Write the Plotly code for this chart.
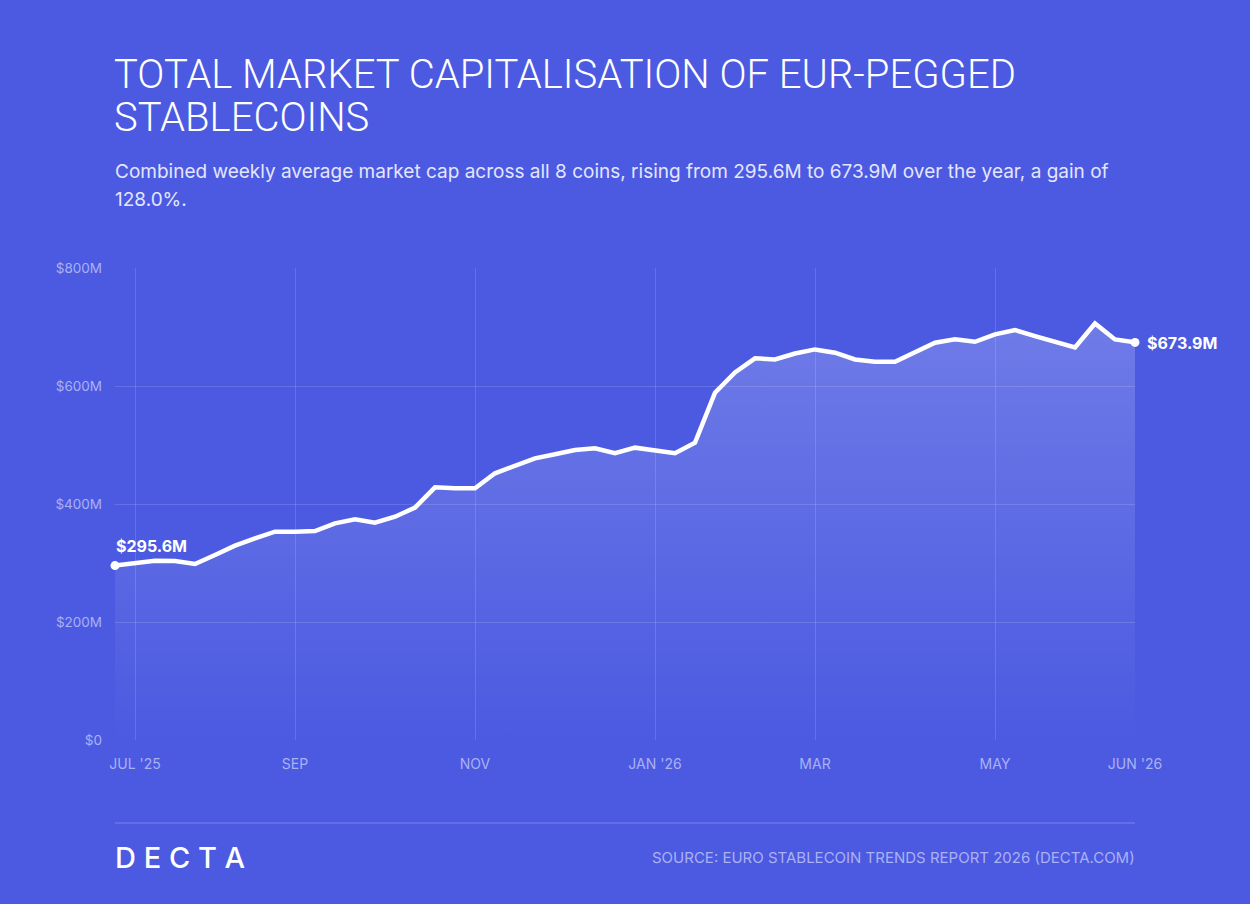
import plotly.graph_objects as go
import pandas as pd

# ---- data ----
weeks = pd.date_range("2025-06-30", periods=52, freq="7D")
market_cap_m = [
    295.6, 300.5, 303.9, 303.4, 298.3, 313.6, 329.4, 341.8, 353.0, 353.0,
    354.2, 367.2, 374.0, 368.4, 378.5, 393.8, 428.2, 426.6, 426.6, 452.0,
    465.0, 477.4, 484.2, 491.5, 494.4, 486.0, 495.5, 489.8, 486.0, 504.0,
    588.7, 623.0, 646.9, 645.0, 655.0, 662.0, 656.5, 645.0, 641.2, 641.2,
    658.0, 673.4, 679.0, 675.0, 687.6, 694.9, 684.7, 675.0, 665.5, 706.0,
    679.0, 673.9,
]
tick_dates = ["2025-07-07", "2025-09-01", "2025-11-03", "2026-01-05",
              "2026-03-02", "2026-05-04", "2026-06-22"]
tick_labels = ["JUL '25", "SEP", "NOV", "JAN '26", "MAR", "MAY", "JUN '26"]
y_ticks = [0, 200, 400, 600, 800]
y_tick_labels = ["$0", "$200M", "$400M", "$600M", "$800M"]

title_lines = ["TOTAL MARKET CAPITALISATION OF EUR-PEGGED", "STABLECOINS"]
subtitle_lines = [
    "Combined weekly average market cap across all 8 coins, rising from 295.6M to 673.9M over the year, a gain of",
    "128.0%.",
]
source_text = "SOURCE: EURO STABLECOIN TRENDS REPORT 2026 (DECTA.COM)"
logo_text = "D E C T A"

BG = "#4b5ae1"
TICK_COLOR = "#aab1f4"
GRID = "rgba(255,255,255,0.14)"

W, H = 1250, 904
L, R, T, B = 115, 115, 268, 164
plot_h = H - T - B


def py(pix):
    return (H - B - pix) / plot_h


fig = go.Figure()

fig.add_trace(go.Scatter(
    x=weeks, y=market_cap_m, mode="lines",
    line=dict(color="white", width=4.5),
    fill="tozeroy",
    fillgradient=dict(type="vertical",
                      colorscale=[[0, "rgba(255,255,255,0.0)"],
                                  [1, "rgba(255,255,255,0.2)"]]),
    hoverinfo="skip", showlegend=False,
))

end_x = [weeks[0], weeks[-1]]
end_y = [market_cap_m[0], market_cap_m[-1]]
fig.add_trace(go.Scatter(
    x=end_x, y=end_y, mode="markers",
    marker=dict(color="white", size=9),
    cliponaxis=False,
    hoverinfo="skip", showlegend=False,
))

fig.add_annotation(x=weeks[0], y=market_cap_m[0], xref="x", yref="y",
                   text=f"<b>${market_cap_m[0]:.1f}M</b>", showarrow=False,
                   xanchor="left", yanchor="bottom", xshift=-1, yshift=8,
                   font=dict(family="Inter", size=16, color="white"))
fig.add_annotation(x=weeks[-1], y=market_cap_m[-1], xref="x", yref="y",
                   text=f"<b>${market_cap_m[-1]:.1f}M</b>", showarrow=False,
                   xanchor="left", yanchor="middle", xshift=10, yshift=-1,
                   font=dict(family="Inter", size=16, color="white"))

# Title
for line, pix in zip(title_lines, [90, 133]):
    fig.add_annotation(xref="paper", yref="paper", x=0, y=py(pix), xanchor="left",
                       yanchor="bottom", text=line, showarrow=False, xshift=-3,
                       font=dict(family="Roboto", size=40, color="white", weight=300),
                       yshift=-10)
# Subtitle
for line, pix in zip(subtitle_lines, [171, 200]):
    fig.add_annotation(xref="paper", yref="paper", x=0, y=py(pix), xanchor="left",
                       yanchor="middle", text=line, showarrow=False, xshift=-2,
                       font=dict(family="Inter", size=19, color="#e4e6ff"))

# Footer
fig.add_shape(type="line", xref="paper", yref="paper", x0=0, x1=1,
              y0=py(823), y1=py(823), line=dict(color="rgba(255,255,255,0.25)", width=1))
fig.add_annotation(xref="paper", yref="paper", x=0, y=py(857), xanchor="left",
                   yanchor="middle", text=logo_text, showarrow=False, xshift=-2,
                   font=dict(family="Inter", size=29, color="white", weight=500))
fig.add_annotation(xref="paper", yref="paper", x=1, y=py(857), xanchor="right",
                   yanchor="middle", text=source_text, showarrow=False, xshift=2,
                   font=dict(family="Inter", size=15, color=TICK_COLOR))

fig.update_layout(
    width=W, height=H,
    margin=dict(l=L, r=R, t=T, b=B, pad=0),
    paper_bgcolor=BG, plot_bgcolor=BG,
    xaxis=dict(
        type="date", range=[weeks[0], weeks[-1]],
        tickmode="array", tickvals=tick_dates, ticktext=tick_labels,
        showgrid=True, gridcolor=GRID, gridwidth=1,
        zeroline=False, showline=False, ticks="",
        tickfont=dict(family="Inter", size=14, color=TICK_COLOR),
        ticklabelstandoff=14,
        fixedrange=True,
    ),
    yaxis=dict(
        range=[0, 800], tickmode="array", tickvals=y_ticks, ticktext=y_tick_labels,
        showgrid=True, gridcolor=GRID, gridwidth=1,
        zeroline=False, showline=False, ticks="",
        tickfont=dict(family="Inter", size=13.5, color=TICK_COLOR),
        ticklabelstandoff=12,
        fixedrange=True,
    ),
    hovermode=False,
)

fig.write_html("out.html", config={"displayModeBar": False})
